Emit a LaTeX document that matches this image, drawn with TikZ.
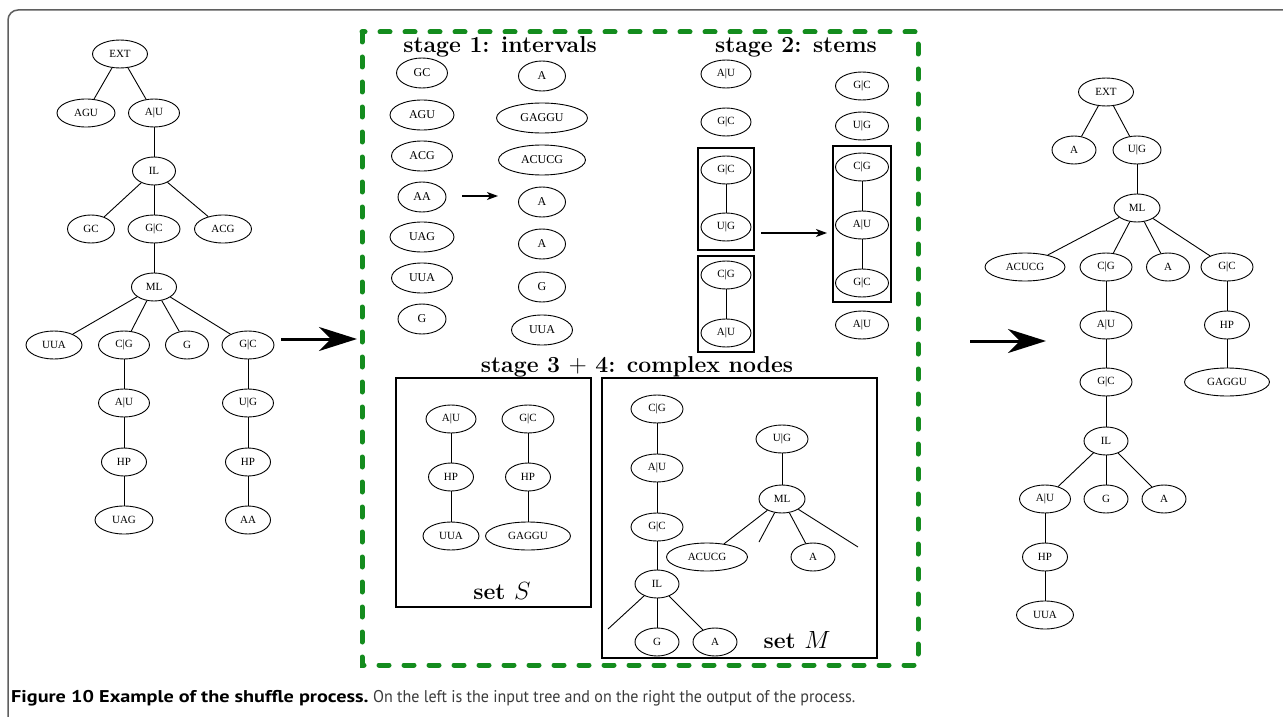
\documentclass[tikz,border=0pt]{standalone}
\usepackage{graphicx}
\usepackage{fontspec}
\newfontfamily\nodefont{Liberation Serif}
\newfontfamily\capfont{PT Sans}
\usetikzlibrary{shapes.geometric,arrows.meta}
\definecolor{dgreen}{RGB}{20,140,30}
\definecolor{framegray}{RGB}{95,95,95}
\definecolor{capgray}{RGB}{60,60,60}
\begin{document}
\begin{tikzpicture}[x=1pt,y=-1pt,
  el/.style={draw, ellipse, inner sep=0pt, minimum height=28pt, minimum width=#1,
    line width=0.9pt, font=\nodefont\fontsize{11}{12}\selectfont},
  el/.default=50pt,
  elb/.style={el=#1, minimum height=30pt, font=\nodefont\fontsize{12}{13}\selectfont},
  edge/.style={line width=0.9pt},
  sbox/.style={line width=1.2pt},
  stitle/.style={anchor=base, inner sep=0pt, font=\bfseries\fontsize{23}{25}\selectfont},
  bigarrow/.style={line width=3pt, -{Stealth[length=38pt,width=24pt,inset=12pt]}},
  smallarrow/.style={line width=1.1pt, -{Stealth[length=11pt,width=8pt,inset=3pt]}},
  greendash/.style={dgreen, line width=5pt, line cap=round, dash pattern=on 10pt off 15pt}
]
\useasboundingbox (0,0) rectangle (1283,717);
\fill[white] (0,0) rectangle (1283,717);
% outer frame
\draw[framegray, line width=1.5pt, rounded corners=10pt] (8,720) -- (8,10) -- (1290,10);

% ---------------- left tree ----------------
\node[el=55pt] (L-ext) at (120,54) {EXT};
\node[el=58pt] (L-agu) at (86,113) {AGU};
\node[el=51pt] (L-au) at (154,113) {A|U};
\node[el=43pt] (L-il) at (154,171) {IL};
\node[el=47pt] (L-gc) at (91,229) {GC};
\node[el=52pt] (L-gcp) at (154,229) {G|C};
\node[el=57pt] (L-acg) at (223,229) {ACG};
\node[el=45pt] (L-ml) at (154,287) {ML};
\node[el=56pt] (L-uua) at (54,345) {UUA};
\node[el=51pt] (L-cg) at (124,345) {C|G};
\node[el=43pt] (L-g) at (187,345) {G};
\node[el=52pt] (L-gc2) at (248,345) {G|C};
\node[el=51pt] (L-au2) at (124,403) {A|U};
\node[el=51pt] (L-ug) at (248,403) {U|G};
\node[el=45pt] (L-hp1) at (124,462) {HP};
\node[el=45pt] (L-hp2) at (248,462) {HP};
\node[el=58pt] (L-uag) at (124,520) {UAG};
\node[el=45pt] (L-aa) at (248,520) {AA};
\draw[edge] (L-ext) -- (L-agu);
\draw[edge] (L-ext) -- (L-au);
\draw[edge] (L-au) -- (L-il);
\draw[edge] (L-il) -- (L-gc);
\draw[edge] (L-il) -- (L-gcp);
\draw[edge] (L-il) -- (L-acg);
\draw[edge] (L-gcp) -- (L-ml);
\draw[edge] (L-ml) -- (L-uua);
\draw[edge] (L-ml) -- (L-cg);
\draw[edge] (L-ml) -- (L-g);
\draw[edge] (L-ml) -- (L-gc2);
\draw[edge] (L-cg) -- (L-au2);
\draw[edge] (L-au2) -- (L-hp1);
\draw[edge] (L-hp1) -- (L-uag);
\draw[edge] (L-gc2) -- (L-ug);
\draw[edge] (L-ug) -- (L-hp2);
\draw[edge] (L-hp2) -- (L-aa);

% big arrow 1
\coordinate (A1s) at (281,339);
\coordinate (A1e) at (357,339);
\draw[bigarrow] (A1s) -- (A1e);

% ---------------- green dashed box ----------------
\draw[greendash] (362,32) rectangle (918,665);

% stage 1
\node[stitle] (T1) at (500,53) {stage 1: intervals};
\node[elb=51pt] (S1-gc) at (422,73) {GC};
\node[elb=64pt] (S1-agu) at (422,115) {AGU};
\node[elb=61pt] (S1-acg) at (422,156) {ACG};
\node[elb=48pt] (S1-aa) at (422,197) {AA};
\node[elb=64pt] (S1-uag) at (422,237) {UAG};
\node[elb=61pt] (S1-uua) at (422,278) {UUA};
\node[elb=48pt] (S1-g) at (422,319) {G};
\node[elb=47pt] (S1r-a1) at (542,76) {A};
\node[elb=91pt] (S1r-gaggu) at (542,118) {GAGGU};
\node[elb=87pt] (S1r-acucg) at (542,160) {ACUCG};
\node[elb=47pt] (S1r-a2) at (542,202) {A};
\node[elb=47pt] (S1r-a3) at (542,244) {A};
\node[elb=47pt] (S1r-g) at (542,287) {G};
\node[elb=61pt] (S1r-uua) at (542,330) {UUA};
\coordinate (S1as) at (462,196);
\coordinate (S1ae) at (498,196);
\draw[smallarrow] (S1as) -- (S1ae);

% stage 2
\node[stitle] (T2) at (796,53) {stage 2: stems};
\node[el=50pt] (S2-au) at (726,74) {A|U};
\node[el=50pt] (S2-gc) at (726,122) {G|C};
\node[el=50pt] (S2-gc2) at (726,170) {G|C};
\node[el=50pt] (S2-ug) at (726,227) {U|G};
\node[el=50pt] (S2-cg) at (726,275) {C|G};
\node[el=50pt] (S2-au2) at (726,333) {A|U};
\draw[edge] (S2-gc2) -- (S2-ug);
\draw[edge] (S2-cg) -- (S2-au2);
\draw[sbox] (698,148) rectangle (754,250);
\draw[sbox] (698,256) rectangle (754,352);
\node[el=53pt] (S2r-gc) at (862,86) {G|C};
\node[el=53pt] (S2r-ug) at (862,126) {U|G};
\node[el=53pt] (S2r-cg) at (862,167) {C|G};
\node[el=53pt] (S2r-au) at (862,225) {A|U};
\node[el=53pt] (S2r-gc2) at (862,283) {G|C};
\node[el=53pt] (S2r-au2) at (862,325) {A|U};
\draw[edge] (S2r-cg) -- (S2r-au);
\draw[edge] (S2r-au) -- (S2r-gc2);
\draw[sbox] (833,146) rectangle (891,302);
\coordinate (S2as) at (761,233);
\coordinate (S2ae) at (827,233);
\draw[smallarrow] (S2as) -- (S2ae);

% stage 3 + 4
\node[stitle] (T3) at (637,372) {stage 3 $+$ 4: complex nodes};
\draw[sbox] (396,378) rectangle (591,607);
\node[el=50pt] (S-au) at (451,419) {A|U};
\node[el=45pt] (S-hp1) at (451,477) {HP};
\node[el=56pt] (S-uua) at (451,536) {UUA};
\node[el=52pt] (S-gc) at (528,419) {G|C};
\node[el=45pt] (S-hp2) at (528,477) {HP};
\node[el=85pt] (S-gaggu) at (528,536) {GAGGU};
\draw[edge] (S-au) -- (S-hp1);
\draw[edge] (S-hp1) -- (S-uua);
\draw[edge] (S-gc) -- (S-hp2);
\draw[edge] (S-hp2) -- (S-gaggu);
\node[stitle] (setS) at (502,599) {set $S$};

\draw[sbox] (602,378) rectangle (877,658);
\node[el=52pt] (M-cg) at (657,409) {C|G};
\node[el=52pt] (M-au) at (657,468) {A|U};
\node[el=52pt] (M-gc) at (657,527) {G|C};
\node[el=44pt] (M-il) at (657,584) {IL};
\node[el=44pt] (M-g) at (657,642) {G};
\node[el=44pt] (M-a) at (715,642) {A};
\coordinate (M-d1) at (608,629);
\draw[edge] (M-cg) -- (M-au);
\draw[edge] (M-au) -- (M-gc);
\draw[edge] (M-gc) -- (M-il);
\draw[edge] (M-il) -- (M-g);
\draw[edge] (M-il) -- (M-a);
\draw[edge] (M-il) -- (M-d1);
\node[el=52pt] (M-ug) at (782,439) {U|G};
\node[el=46pt] (M-ml) at (782,499) {ML};
\node[el=81pt] (M-acucg) at (707,557) {ACUCG};
\node[el=44pt] (M-a2) at (813,557) {A};
\coordinate (M-d2) at (759,542);
\coordinate (M-d3) at (858,547);
\draw[edge] (M-ug) -- (M-ml);
\draw[edge] (M-ml) -- (M-acucg);
\draw[edge] (M-ml) -- (M-d2);
\draw[edge] (M-ml) -- (M-a2);
\draw[edge] (M-ml) -- (M-d3);
\node[stitle] (setM) at (797,648) {set $M$};

% big arrow 2
\coordinate (A2s) at (970,341);
\coordinate (A2e) at (1046,341);
\draw[bigarrow] (A2s) -- (A2e);

% ---------------- right tree ----------------
\node[el=55pt] (R-ext) at (1106,92) {EXT};
\node[el=44pt] (R-a) at (1074,150) {A};
\node[el=48pt] (R-ug) at (1137,150) {U|G};
\node[el=46pt] (R-ml) at (1137,208) {ML};
\node[el=80pt] (R-acucg) at (1025,267) {ACUCG};
\node[el=52pt] (R-cg) at (1106,267) {C|G};
\node[el=43pt] (R-a2) at (1168,267) {A};
\node[el=52pt] (R-gc) at (1227,267) {G|C};
\node[el=52pt] (R-au) at (1106,325) {A|U};
\node[el=45pt] (R-hp) at (1227,325) {HP};
\node[el=52pt] (R-gc2) at (1106,382) {G|C};
\node[el=85pt] (R-gaggu) at (1227,382) {GAGGU};
\node[el=44pt] (R-il) at (1106,441) {IL};
\node[el=51pt] (R-au2) at (1045,499) {A|U};
\node[el=44pt] (R-g) at (1106,499) {G};
\node[el=44pt] (R-a3) at (1164,499) {A};
\node[el=45pt] (R-hp2) at (1045,557) {HP};
\node[el=57pt] (R-uua) at (1045,615) {UUA};
\draw[edge] (R-ext) -- (R-a);
\draw[edge] (R-ext) -- (R-ug);
\draw[edge] (R-ug) -- (R-ml);
\draw[edge] (R-ml) -- (R-acucg);
\draw[edge] (R-ml) -- (R-cg);
\draw[edge] (R-ml) -- (R-a2);
\draw[edge] (R-ml) -- (R-gc);
\draw[edge] (R-cg) -- (R-au);
\draw[edge] (R-au) -- (R-gc2);
\draw[edge] (R-gc2) -- (R-il);
\draw[edge] (R-il) -- (R-au2);
\draw[edge] (R-il) -- (R-g);
\draw[edge] (R-il) -- (R-a3);
\draw[edge] (R-au2) -- (R-hp2);
\draw[edge] (R-hp2) -- (R-uua);
\draw[edge] (R-gc) -- (R-hp);
\draw[edge] (R-hp) -- (R-gaggu);

% caption
\node[anchor=base west, inner sep=0pt] (cap) at (11,702)
  {\capfont\fontsize{17}{20}\selectfont\scalebox{1.19}[1]{\textbf{Figure 10 Example of the shuffle process.}} \textcolor{capgray}{\scalebox{0.944}[1]{On the left is the input tree and on the right the output of the process.}}};
\end{tikzpicture}
\end{document}
